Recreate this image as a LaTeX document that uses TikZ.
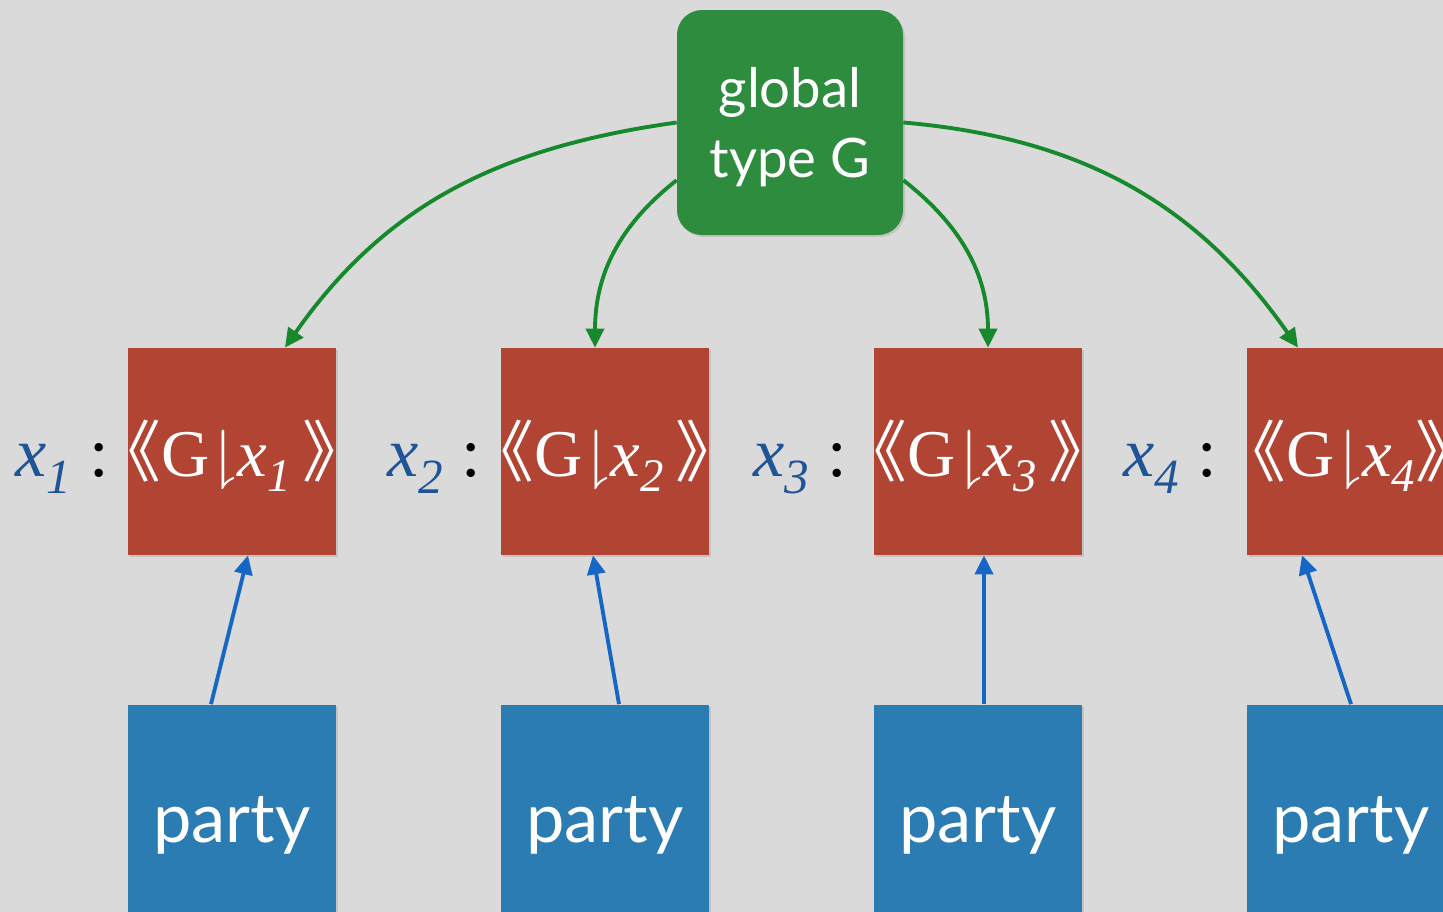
\documentclass[tikz,border=0pt]{standalone}
\usepackage{amsmath, amssymb}
\usepackage{fontspec}
\setmainfont{Liberation Serif}
\newfontfamily\gill{Lato}
\newfontfamily\cjk{Noto Sans CJK SC}
\usetikzlibrary{arrows.meta, shadows}

\definecolor{paper}{HTML}{DADADA}
\definecolor{projred}{HTML}{B24433}
\definecolor{partyblue}{HTML}{2B7CB3}
\definecolor{globalgreen}{HTML}{2E8C3E}
\definecolor{arrowgreen}{HTML}{15892C}
\definecolor{arrowblue}{HTML}{1666C6}
\definecolor{varblue}{HTML}{1F5596}

% projection of G onto a participant
\newcommand{\proj}[2]{\kern-0.45em{\cjk 《}G$\downharpoonright$\textit{x\textsubscript{#1}}#2{\cjk 》}\kern-0.45em}
\newcommand{\pvar}[1]{{\color{varblue}\textit{x\textsubscript{#1}}}}

\begin{document}
\begin{tikzpicture}[
  box/.style={minimum width=4.16cm, minimum height=4.14cm, inner sep=0pt,
    drop shadow={opacity=0.25, shadow xshift=0.04cm, shadow yshift=-0.04cm}},
  redbox/.style={box, fill=projred},
  bluebox/.style={box, fill=partyblue},
  greenbox/.style={fill=globalgreen, rounded corners=0.5cm, minimum width=4.52cm,
    minimum height=4.5cm, inner sep=0pt, text=white, align=center, text depth=0pt,
    font=\gill\fontsize{31}{40}\selectfont,
    drop shadow={opacity=0.25, shadow xshift=0.04cm, shadow yshift=-0.04cm}},
  projtext/.style={anchor=base, text=white, inner sep=0pt, font=\fontsize{38}{46}\selectfont},
  partytext/.style={anchor=base, text=white, inner sep=0pt, font=\gill\fontsize{39}{46}\selectfont},
  vartext/.style={anchor=base east, inner sep=0pt, font=\fontsize{40}{48}\selectfont},
  gen/.style={-{Triangle[length=0.38cm, width=0.36cm]}, line width=2.2pt, arrowgreen},
  impl/.style={-{Triangle[length=0.38cm, width=0.36cm]}, line width=2.2pt, arrowblue}
]
\useasboundingbox (0,0) rectangle (28.86,-18.24);
\clip (0,0) rectangle (28.86,-18.24);
\fill[paper] (0,0) rectangle (28.86,-18.24);

% global type
\node[greenbox] (G) at (15.8,-2.45) {global\\type G};

% projections
\node[redbox] (r1) at (4.64,-9.03) {};
\node[redbox] (r2) at (12.10,-9.03) {};
\node[redbox] (r3) at (19.56,-9.03) {};
\node[redbox] (r4) at (27.02,-9.03) {};

\node[projtext] (t1) at ([yshift=-0.49cm]r1.center) {\proj{1}{\,}};
\node[projtext] (t2) at ([yshift=-0.49cm]r2.center) {\proj{2}{\,}};
\node[projtext] (t3) at ([yshift=-0.49cm]r3.center) {\proj{3}{\,}};
\node[projtext] (t4) at ([yshift=-0.49cm]r4.center) {\proj{4}{}};

\node[vartext] (v1) at ([xshift=-0.36cm,yshift=-0.49cm]r1.west) {\pvar{1} :};
\node[vartext] (v2) at ([xshift=-0.38cm,yshift=-0.49cm]r2.west) {\pvar{2} :};
\node[vartext] (v3) at ([xshift=-0.52cm,yshift=-0.49cm]r3.west) {\pvar{3} :};
\node[vartext] (v4) at ([xshift=-0.58cm,yshift=-0.49cm]r4.west) {\pvar{4} :};

% parties
\node[bluebox] (p1) at (4.64,-16.16) {};
\node[bluebox] (p2) at (12.10,-16.16) {};
\node[bluebox] (p3) at (19.56,-16.16) {};
\node[bluebox] (p4) at (27.02,-16.16) {};

\node[partytext] (q1) at ([yshift=-0.68cm]p1.center) {party};
\node[partytext] (q2) at ([yshift=-0.68cm]p2.center) {party};
\node[partytext] (q3) at ([yshift=-0.68cm]p3.center) {party};
\node[partytext] (q4) at ([yshift=-0.68cm]p4.center) {party};

% projection arrows
\draw[gen] (G.west) to[out=188, in=55] ([xshift=1.06cm]r1.north);
\draw[gen] (G.207) to[out=218, in=90] ([xshift=-0.2cm]r2.north);
\draw[gen] (G.-27) to[out=-38, in=90] ([xshift=0.2cm]r3.north);
\draw[gen] (G.east) to[out=-5, in=125] ([xshift=-1.06cm]r4.north);

% implementation arrows
\draw[impl] ([xshift=-0.42cm]p1.north) -- ([xshift=0.32cm]r1.south);
\draw[impl] ([xshift=0.28cm]p2.north) -- ([xshift=-0.24cm]r2.south);
\draw[impl] ([xshift=0.12cm]p3.north) -- ([xshift=0.12cm]r3.south);
\draw[impl] ([xshift=0cm]p4.north) -- ([xshift=-0.98cm]r4.south);
\end{tikzpicture}
\end{document}
